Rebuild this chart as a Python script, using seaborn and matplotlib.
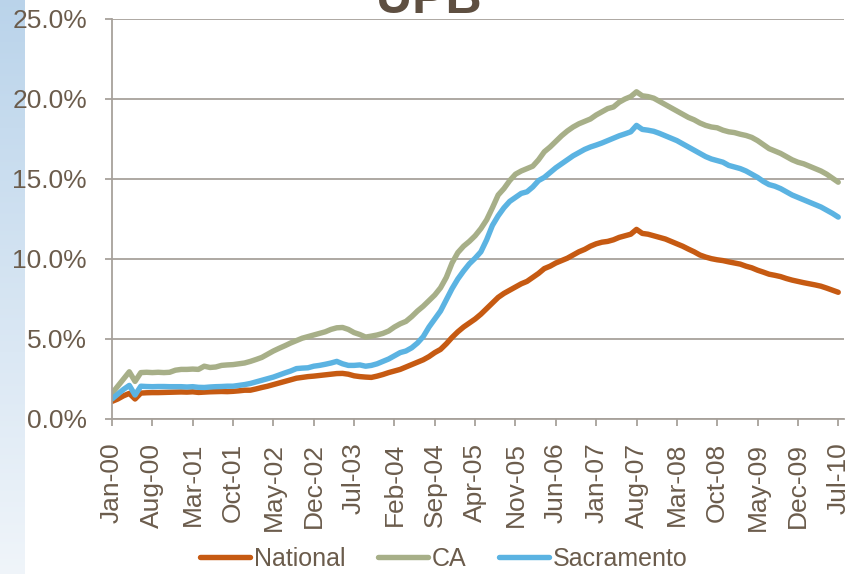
import numpy as np
import pandas as pd
import matplotlib
matplotlib.use("Agg")
import matplotlib.pyplot as plt
import seaborn as sns
from matplotlib.ticker import FuncFormatter

# ---------------- data (percent of UPB, monthly Jan-00 .. Jul-10) ----------------
months = pd.date_range("2000-01-01", "2010-07-01", freq="MS")
month_labels = [d.strftime("%b-%y") for d in months]

national = [
    1.10, 1.25, 1.45, 1.60, 1.25, 1.62, 1.64, 1.65, 1.65, 1.66, 1.67, 1.68,
    1.69, 1.68, 1.70, 1.66, 1.68, 1.70, 1.71, 1.72, 1.71, 1.73, 1.76, 1.80,
    1.80, 1.88, 1.97, 2.05, 2.15, 2.25, 2.35, 2.45, 2.55, 2.60, 2.65, 2.68,
    2.72, 2.76, 2.80, 2.84, 2.85, 2.80, 2.70, 2.65, 2.62, 2.60, 2.68, 2.78,
    2.90, 3.00, 3.10, 3.25, 3.40, 3.55, 3.70, 3.90, 4.15, 4.35, 4.70, 5.10,
    5.45, 5.75, 6.00, 6.25, 6.55, 6.90, 7.25, 7.60, 7.85, 8.05, 8.25, 8.45,
    8.60, 8.85, 9.10, 9.40, 9.55, 9.75, 9.90, 10.05, 10.25, 10.45, 10.60, 10.80,
    10.95, 11.05, 11.10, 11.20, 11.35, 11.45, 11.55, 11.85, 11.60, 11.55, 11.45, 11.35,
    11.25, 11.10, 10.95, 10.80, 10.62, 10.45, 10.25, 10.12, 10.02, 9.95, 9.90, 9.82,
    9.75, 9.68, 9.55, 9.45, 9.30, 9.18, 9.05, 8.98, 8.90, 8.78, 8.68, 8.60,
    8.52, 8.45, 8.38, 8.30, 8.18, 8.05, 7.92,
]

ca = [
    1.60, 2.05, 2.50, 2.95, 2.35, 2.90, 2.92, 2.90, 2.92, 2.90, 2.92, 3.05,
    3.10, 3.10, 3.12, 3.10, 3.30, 3.22, 3.25, 3.35, 3.38, 3.40, 3.45, 3.50,
    3.60, 3.72, 3.85, 4.05, 4.25, 4.42, 4.58, 4.75, 4.90, 5.05, 5.15, 5.25,
    5.35, 5.45, 5.60, 5.70, 5.72, 5.60, 5.40, 5.28, 5.12, 5.18, 5.25, 5.35,
    5.50, 5.75, 5.95, 6.10, 6.40, 6.75, 7.05, 7.40, 7.75, 8.20, 8.85, 9.75,
    10.40, 10.80, 11.10, 11.45, 11.90, 12.45, 13.20, 14.00, 14.40, 14.90, 15.30, 15.50,
    15.65, 15.80, 16.20, 16.70, 17.00, 17.35, 17.70, 18.00, 18.25, 18.45, 18.60, 18.75,
    19.00, 19.20, 19.40, 19.50, 19.80, 20.00, 20.15, 20.45, 20.20, 20.15, 20.05, 19.85,
    19.65, 19.45, 19.25, 19.05, 18.85, 18.70, 18.50, 18.35, 18.25, 18.20, 18.05, 17.95,
    17.90, 17.80, 17.72, 17.60, 17.40, 17.15, 16.90, 16.75, 16.60, 16.40, 16.20, 16.05,
    15.95, 15.80, 15.65, 15.50, 15.30, 15.05, 14.80,
]

sacramento = [
    1.25, 1.55, 1.85, 2.10, 1.50, 2.05, 2.03, 2.02, 2.03, 2.03, 2.02, 2.02,
    2.02, 2.00, 2.02, 1.98, 1.97, 2.00, 2.02, 2.03, 2.05, 2.05, 2.10, 2.15,
    2.22, 2.32, 2.42, 2.52, 2.62, 2.75, 2.88, 3.00, 3.15, 3.18, 3.20, 3.30,
    3.35, 3.42, 3.50, 3.60, 3.45, 3.35, 3.35, 3.38, 3.30, 3.35, 3.45, 3.60,
    3.75, 3.95, 4.15, 4.25, 4.45, 4.75, 5.15, 5.75, 6.25, 6.75, 7.45, 8.15,
    8.75, 9.25, 9.70, 10.05, 10.45, 11.20, 12.10, 12.70, 13.20, 13.60, 13.85, 14.10,
    14.20, 14.50, 14.90, 15.10, 15.40, 15.70, 15.95, 16.20, 16.45, 16.65, 16.85, 17.00,
    17.12, 17.25, 17.40, 17.55, 17.70, 17.82, 17.95, 18.35, 18.10, 18.05, 17.98, 17.85,
    17.70, 17.55, 17.40, 17.20, 17.00, 16.80, 16.60, 16.40, 16.25, 16.15, 16.05, 15.85,
    15.75, 15.65, 15.50, 15.30, 15.10, 14.85, 14.65, 14.55, 14.40, 14.20, 14.00, 13.85,
    13.70, 13.55, 13.40, 13.25, 13.05, 12.85, 12.62,
]

series_names = ["National", "CA", "Sacramento"]
series_colors = ["#C65A12", "#A7AF88", "#5BB3E2"]
y_ticks = [0, 5, 10, 15, 20, 25]

# ---------------- build long table ----------------
idx = np.arange(len(month_labels))
df = pd.concat([
    pd.DataFrame({"m": idx, "value": national, "series": "National"}),
    pd.DataFrame({"m": idx, "value": ca, "series": "CA"}),
    pd.DataFrame({"m": idx, "value": sacramento, "series": "Sacramento"}),
], ignore_index=True)

sns.set_theme(style="white")
plt.rcParams["font.family"] = ["Liberation Sans", "DejaVu Sans"]
text_col = "#6B5C4C"
grid_col = "#A7A19B"

fig = plt.figure(figsize=(8.54, 5.74), dpi=100)

# left decorative gradient strip
strip = fig.add_axes([0, 0, 25 / 854, 1])
top_c = np.array([0.73, 0.83, 0.92])
bot_c = np.array([0.94, 0.96, 0.98])
t = np.linspace(0, 1, 256)[:, None]
grad = (top_c[None, :] * (1 - t) + bot_c[None, :] * t)[:, None, :]
strip.imshow(grad, aspect="auto", extent=[0, 1, 0, 1])
strip.set_axis_off()

ax = fig.add_axes([112 / 854, 1 - 419 / 574, 732 / 854, 400 / 574])
sns.lineplot(data=df, x="m", y="value", hue="series", hue_order=series_names,
             palette=dict(zip(series_names, series_colors)), linewidth=3.9,
             ax=ax, legend=False, estimator=None, sort=False)
for ln in ax.get_lines():
    ln.set_solid_capstyle("round")
    ln.set_solid_joinstyle("round")

ax.set_xlim(0, len(month_labels))
ax.set_ylim(0, 25)
ax.set_yticks(y_ticks)
ax.yaxis.set_major_formatter(FuncFormatter(lambda v, p: f"{v:.1f}%"))
tick_pos = idx[::7]
ax.set_xticks(tick_pos)
ax.set_xticklabels([month_labels[i] for i in tick_pos], rotation=90)
ax.set_xlabel("")
ax.set_ylabel("")

ax.grid(axis="y", color=grid_col, linewidth=1.3)
ax.grid(axis="x", visible=False)
ax.set_axisbelow(True)
for s in ["top", "right"]:
    ax.spines[s].set_visible(False)
for s in ["left", "bottom"]:
    ax.spines[s].set_color(grid_col)
    ax.spines[s].set_linewidth(1.3)

ax.tick_params(axis="y", which="major", direction="out", length=5, width=1.3,
               color=grid_col, left=True, labelsize=19, labelcolor=text_col, pad=13)
ax.tick_params(axis="x", which="major", direction="out", length=5, width=1.3,
               color=grid_col, bottom=True, labelsize=19, labelcolor=text_col, pad=12)

# clipped title at the very top
fig.text(429 / 854, 1 - 13 / 574, "UPB", ha="center", va="baseline",
         fontsize=36, fontweight="bold", color="#5E4F41")

# legend
from matplotlib.lines import Line2D
handles = [Line2D([0], [0], color=c, linewidth=3.9, solid_capstyle="round")
           for c in series_colors]
leg = fig.legend(handles, series_names, loc="center", ncol=3,
                 bbox_to_anchor=(444 / 854, 1 - 559 / 574), frameon=False,
                 fontsize=18, handlelength=2.0, handletextpad=0.15,
                 columnspacing=1.3, borderpad=0)
for txt in leg.get_texts():
    txt.set_color(text_col)

fig.savefig("out.png", dpi=100)
